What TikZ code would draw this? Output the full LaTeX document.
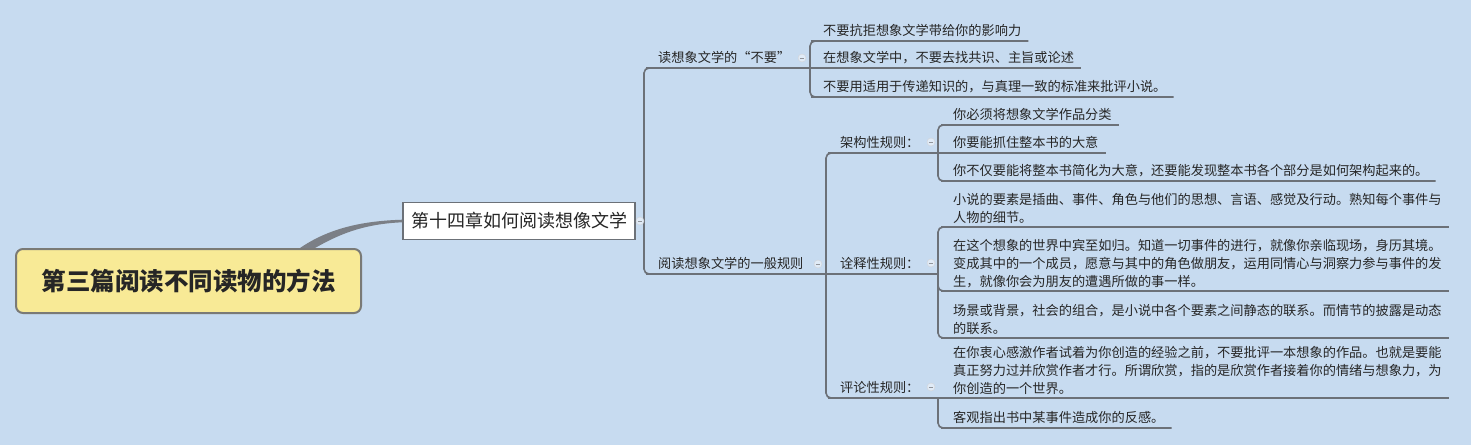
\documentclass[tikz,border=0pt]{standalone}
\usepackage{fontspec}
\setmainfont{Noto Sans CJK SC}
\definecolor{bg}{RGB}{199,219,240}
\definecolor{linegray}{RGB}{108,113,120}
\definecolor{rootfill}{RGB}{248,234,150}
\definecolor{rootline}{RGB}{122,122,118}
\definecolor{ink}{RGB}{38,38,38}

\begin{document}
\begin{tikzpicture}[x=1pt,y=-1pt,
  link/.style={draw=linegray,line width=1.6pt,rounded corners=5pt},
  leaf/.style={anchor=south west,inner xsep=7pt,inner ysep=3pt,text=ink,
    font=\fontsize{13.2}{18}\selectfont},
  oneline/.style={leaf,text depth=2pt},
  para/.style={leaf,align=left},
  fold/.style={circle,draw=linegray!30,fill=bg!55!white,minimum size=8pt,inner sep=0pt,
    path picture={\draw[linegray!75,line width=0.8pt]
      ([xshift=-2.2pt]path picture bounding box.center) --
      ([xshift=2.2pt]path picture bounding box.center);}}]
% ---------- canvas ----------
\fill[bg] (0,0) rectangle (1471,445);
% ---------- central topic and chapter ----------
\node[draw=rootline,line width=2pt,fill=rootfill,rounded corners=7pt,
  minimum width=345pt,minimum height=64pt,text=ink,
  font=\fontsize{24.5}{26}\selectfont\bfseries] (root) at (188.5,281) {第三篇阅读不同读物的方法};
\node[draw=linegray,line width=1.5pt,fill=white,minimum width=232pt,minimum height=37pt,
  inner sep=0pt,text=ink,font=\fontsize{18}{20}\selectfont] (chap) at (519,221) {第十四章如何阅读想像文学};
\fill[linegray!90] ([xshift=-62pt]root.north east) .. controls (328,229) and (360,221) ..
  ([yshift=1.3pt]chap.west) -- ([yshift=-1.3pt]chap.west) .. controls (362,224) and (338,235) ..
  ([xshift=-47pt]root.north east) -- cycle;
% ---------- junctions ----------
\coordinate (j0) at (644,221);
\coordinate (j1) at (810,68);
\coordinate (j2) at (826,274);
\coordinate (ja) at (938,153);
\coordinate (jb) at (938,274);
\coordinate (jc) at (938,398);
% ---------- second level ----------
\node[oneline] (t1) at (651,68) {读想象文学的“不要”};
\node[oneline] (t2) at (651,274) {阅读想象文学的一般规则};
% ---------- what not to do ----------
\node[oneline] (n1) at (816,41) {不要抗拒想象文学带给你的影响力};
\node[oneline] (n2) at (816,68) {在想象文学中，不要去找共识、主旨或论述};
\node[oneline] (n3) at (816,97) {不要用适用于传递知识的，与真理一致的标准来批评小说。};
% ---------- general rules ----------
\node[oneline] (ra) at (833,153) {架构性规则：};
\node[oneline] (rb) at (833,274) {诠释性规则：};
\node[oneline] (rc) at (833,398) {评论性规则：};
% structure
\node[oneline] (a1) at (946,125) {你必须将想象文学作品分类};
\node[oneline] (a2) at (946,153) {你要能抓住整本书的大意};
\node[oneline] (a3) at (946,181) {你不仅要能将整本书简化为大意，还要能发现整本书各个部分是如何架构起来的。};
% interpretation
\node[para] (b1) at (946,227) {小说的要素是插曲、事件、角色与他们的思想、言语、感觉及行动。熟知每个事件与\\人物的细节。};
\node[para] (b2) at (946,291) {在这个想象的世界中宾至如归。知道一切事件的进行，就像你亲临现场，身历其境。\\变成其中的一个成员，愿意与其中的角色做朋友，运用同情心与洞察力参与事件的发\\生，就像你会为朋友的遭遇所做的事一样。};
\node[para] (b3) at (946,338) {场景或背景，社会的组合，是小说中各个要素之间静态的联系。而情节的披露是动态\\的联系。};
% criticism
\node[para] (c1) at (946,398) {在你衷心感激作者试着为你创造的经验之前，不要批评一本想象的作品。也就是要能\\真正努力过并欣赏作者才行。所谓欣赏，指的是欣赏作者接着你的情绪与想象力，为\\你创造的一个世界。};
\node[oneline] (c2) at (946,428) {客观指出书中某事件造成你的反感。};
% ---------- connectors ----------
\draw[link] (j0) |- (t1.south west) -- (j1);
\draw[link] (j0) |- (t2.south west) -- (j2);
\draw[link] (j1) |- (n1.south west) -- (n1.south east);
\draw[link] (j1) -- (n2.south west) -- (n2.south east);
\draw[link] (j1) |- (n3.south west) -- (n3.south east);
\draw[link] (j2) |- (ra.south west) -- (ja);
\draw[link] (j2) -- (rb.south west) -- (jb);
\draw[link] (j2) |- (rc.south west) -- (jc);
\draw[link] (ja) |- (a1.south west) -- (a1.south east);
\draw[link] (ja) -- (a2.south west) -- (a2.south east);
\draw[link] (ja) |- (a3.south west) -- (a3.south east);
\draw[link] (jb) |- (b1.south west) -- (b1.south east);
\draw[link] (jb) |- (b2.south west) -- (b2.south east);
\draw[link] (jb) |- (b3.south west) -- (b3.south east);
\draw[link] (jc) -- (c1.south west) -- (c1.south east);
\draw[link] (jc) |- (c2.south west) -- (c2.south east);
% ---------- fold marks ----------
\node[fold] (m0) at (640,221) {};
\node[fold] (m1) at (802,58) {};
\node[fold] (m2) at (818,264) {};
\node[fold] (ma) at (931,142) {};
\node[fold] (mb) at (931,263) {};
\node[fold] (mc) at (931,387) {};
\end{tikzpicture}
\end{document}
